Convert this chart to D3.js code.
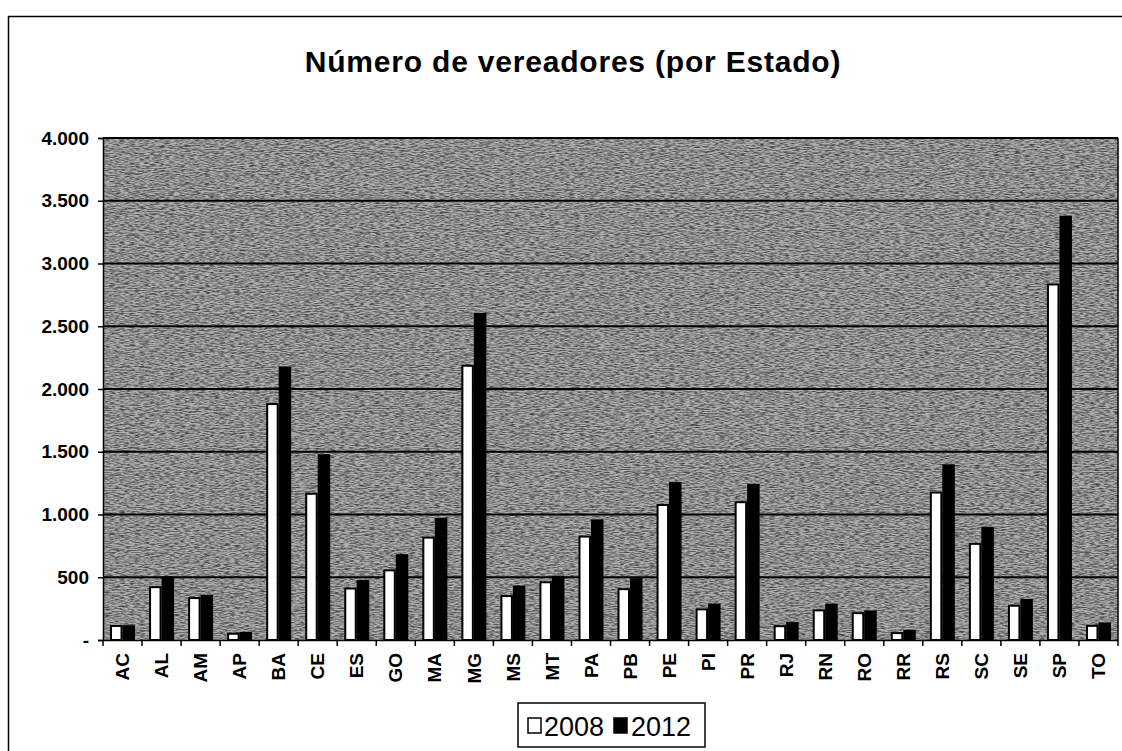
<!DOCTYPE html>
<html>
<head>
<meta charset="utf-8">
<script src="https://cdn.jsdelivr.net/npm/d3@7"></script>
<style>
  html, body { margin: 0; padding: 0; background: #fff; }
  svg { display: block; font-family: Arial, "Liberation Sans", sans-serif; }
</style>
</head>
<body>
<svg id="chart" width="1122" height="751"></svg>
<script>
const states = ["AC","AL","AM","AP","BA","CE","ES","GO","MA","MG","MS","MT","PA","PB","PE","PI","PR","RJ","RN","RO","RR","RS","SC","SE","SP","TO"];
const v2008 = [112,421,334,50,1880,1165,410,555,816,2185,350,460,824,405,1076,244,1098,110,236,214,55,1175,766,273,2833,113];
const v2012 = [118,508,360,64,2180,1480,478,684,974,2606,434,513,961,492,1258,290,1244,143,290,236,80,1400,900,327,3380,140];
const seriesNames = ["2008","2012"];
const yTicks = [0,500,1000,1500,2000,2500,3000,3500,4000];
const yTickLabels = ["-","500","1.000","1.500","2.000","2.500","3.000","3.500","4.000"];
const title = "Número de vereadores (por Estado)";

const svg = d3.select("#chart");
const plot = {left: 103, right: 1118, top: 138, bottom: 640};

// outer chart frame
svg.append("rect").attr("x", 8.5).attr("y", 16.5).attr("width", 1125).attr("height", 750)
  .attr("fill", "#fff").attr("stroke", "#000").attr("stroke-width", 1.5);

// texture filter (scan-like halftone)
const defs = svg.append("defs");
const f = defs.append("filter").attr("id", "noise").attr("x", 0).attr("y", 0).attr("width", "100%").attr("height", "100%");
f.append("feTurbulence").attr("type", "fractalNoise").attr("baseFrequency", "0.2 0.95").attr("numOctaves", 2).attr("seed", 7).attr("result", "t");
f.append("feColorMatrix").attr("in", "t").attr("type", "matrix")
  .attr("values", "0 0 0 0 0  0 0 0 0 0  0 0 0 0 0  2.4 0 0 0 -0.85");

// title
svg.append("text").attr("x", 573).attr("y", 72).attr("text-anchor", "middle")
  .attr("font-size", 30).attr("font-weight", "bold").attr("letter-spacing", 0.8)
  .attr("fill", "#000").text(title);

const x0 = d3.scaleBand().domain(states).range([plot.left, plot.right]).padding(0);
const bw = x0.bandwidth();
const x1 = d3.scaleBand().domain(seriesNames).range([bw * 0.18, bw * 0.82]).padding(0);
const y = d3.scaleLinear().domain([0, 4000]).range([plot.bottom, plot.top]);

// plot background
svg.append("rect").attr("x", plot.left).attr("y", plot.top)
  .attr("width", plot.right - plot.left).attr("height", plot.bottom - plot.top)
  .attr("fill", "#b0b0b0");
svg.append("rect").attr("x", plot.left).attr("y", plot.top)
  .attr("width", plot.right - plot.left).attr("height", plot.bottom - plot.top)
  .attr("fill", "#000").attr("filter", "url(#noise)").attr("opacity", 0.6);

// gridlines
svg.append("g").selectAll("line").data(yTicks.filter(d => d > 0)).join("line")
  .attr("x1", plot.left).attr("x2", plot.right)
  .attr("y1", d => y(d)).attr("y2", d => y(d))
  .attr("stroke", "#000").attr("stroke-width", 2);

// right border of plot
svg.append("line").attr("x1", plot.right).attr("x2", plot.right).attr("y1", plot.top).attr("y2", plot.bottom)
  .attr("stroke", "#000").attr("stroke-width", 1.5);

// bars
const rows = states.map((s, i) => ({state: s, values: [{k: "2008", v: v2008[i]}, {k: "2012", v: v2012[i]}]}));
const groups = svg.append("g").selectAll("g").data(rows).join("g")
  .attr("transform", d => `translate(${x0(d.state)},0)`);
groups.selectAll("rect").data(d => d.values).join("rect")
  .attr("x", d => x1(d.k) + (d.k === "2008" ? 1 : 0))
  .attr("y", d => y(d.v))
  .attr("width", d => x1.bandwidth() - (d.k === "2008" ? 2 : 0))
  .attr("height", d => y(0) - y(d.v))
  .attr("fill", d => d.k === "2008" ? "#fff" : "#000")
  .attr("stroke", "#000").attr("stroke-width", d => d.k === "2008" ? 2 : 0);

// y axis
const yAxis = d3.axisLeft(y).tickValues(yTicks).tickSize(5).tickPadding(9)
  .tickFormat((d, i) => yTickLabels[i]);
const gy = svg.append("g").attr("transform", `translate(${plot.left},0)`).call(yAxis);
gy.select(".domain").attr("stroke", "#000").attr("stroke-width", 1.5);
gy.selectAll(".tick line").attr("stroke", "#000").attr("stroke-width", 1.5);
gy.selectAll("text").attr("font-size", 19).attr("font-weight", "bold").attr("fill", "#000")
  .attr("font-family", "Arial, 'Liberation Sans', sans-serif");

// x axis
const xAxis = d3.axisBottom(x0).tickSize(0).tickPadding(0);
const gx = svg.append("g").attr("transform", `translate(0,${plot.bottom})`).call(xAxis);
gx.select(".domain").attr("stroke", "#000").attr("stroke-width", 1.5);
gx.selectAll(".tick text")
  .attr("font-size", 19).attr("font-weight", "bold").attr("fill", "#000")
  .attr("font-family", "Arial, 'Liberation Sans', sans-serif")
  .attr("text-anchor", "end")
  .attr("transform", "translate(0,13) rotate(-90)")
  .attr("x", 0).attr("y", 0).attr("dy", "0.35em");
// tick marks at category boundaries
const bounds = states.map(s => x0(s)).concat([plot.right]);
svg.append("g").selectAll("line").data(bounds).join("line")
  .attr("x1", d => d).attr("x2", d => d)
  .attr("y1", plot.bottom).attr("y2", plot.bottom + 6)
  .attr("stroke", "#000").attr("stroke-width", 1.5);

// legend
const lg = svg.append("g");
lg.append("rect").attr("x", 518).attr("y", 703).attr("width", 187).attr("height", 44)
  .attr("fill", "#fff").attr("stroke", "#000").attr("stroke-width", 1.5);
const legendItems = [
  {name: seriesNames[0], fill: "#fff", sx: 528, tx: 544},
  {name: seriesNames[1], fill: "#000", sx: 614, tx: 631}
];
legendItems.forEach(it => {
  lg.append("rect").attr("x", it.sx).attr("y", 718).attr("width", 13).attr("height", 15)
    .attr("fill", it.fill).attr("stroke", "#000").attr("stroke-width", 1.5);
  lg.append("text").attr("x", it.tx).attr("y", 736).attr("font-size", 27)
    .attr("fill", "#000").text(it.name);
});
</script>
</body>
</html>
